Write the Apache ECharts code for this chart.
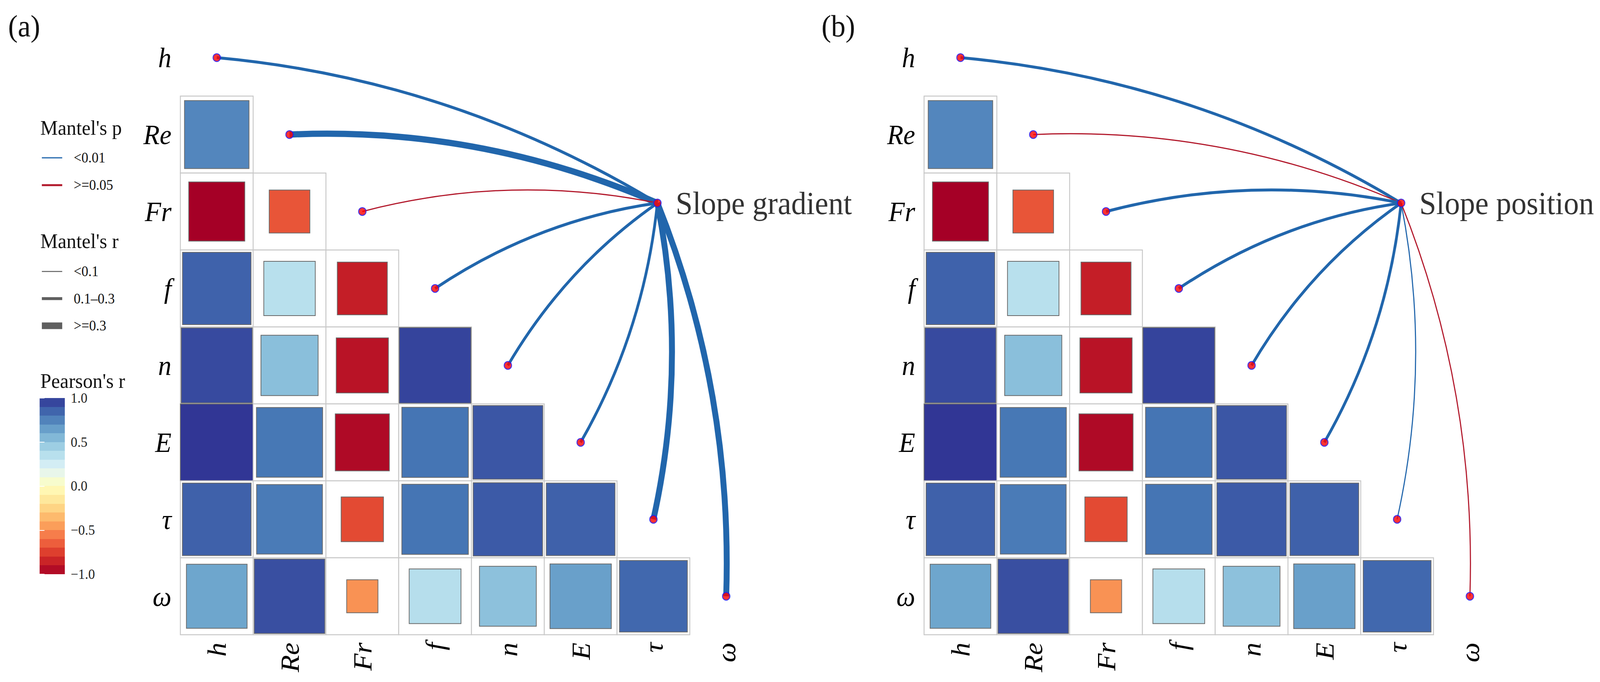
<!DOCTYPE html>
<html>
<head>
<meta charset="utf-8">
<script src="https://cdn.jsdelivr.net/npm/echarts@6/dist/echarts.min.js"></script>
<style>
html,body{margin:0;padding:0;background:#fff;overflow:hidden;}
#chart{width:4320px;height:1746px;transform-origin:0 0;}
</style>
</head>
<body>
<div id="chart"></div>
<script>
// ---------------- DATA ----------------
const variables = ['h', 'Re', 'Fr', 'f', 'n', 'E', 'τ', 'ω'];

// Pearson's r, lower triangle (row variable vs. preceding column variables)
const pearsonH     = [];
const pearsonRe    = [0.74];
const pearsonFr    = [-1.0, -0.68];
const pearsonF     = [0.86, 0.35, -0.875];
const pearsonN     = [0.935, 0.52, -0.92, 0.955];
const pearsonE     = [1.0, 0.79, -0.96, 0.80, 0.90];
const pearsonTau   = [0.865, 0.78, -0.715, 0.80, 0.885, 0.865];
const pearsonOmega = [0.625, 0.92, -0.485, 0.36, 0.51, 0.645, 0.84];

const envNames = ['Slope gradient', 'Slope position'];

// Mantel test results per variable (h ... ω)
const mantelRGradient = [0.22, 0.42, 0.05, 0.19, 0.21, 0.16, 0.36, 0.39];
const mantelPGradient = [0.001, 0.001, 0.31, 0.001, 0.001, 0.001, 0.001, 0.001];
const mantelRPosition = [0.20, 0.06, 0.18, 0.17, 0.19, 0.15, 0.07, 0.05];
const mantelPPosition = [0.001, 0.27, 0.001, 0.001, 0.001, 0.001, 0.002, 0.18];

const legendPLabels = ['<0.01', '>=0.05'];
const legendPValues = [0.001, 0.2];
const legendRLabels = ['<0.1', '0.1–0.3', '>=0.3'];
const legendRValues = [0.05, 0.2, 0.4];

// ---------------- STYLE / LAYOUT ----------------
const W = 4320, H = 1746;
const FONT = 'Liberation Serif';
const BLUE = '#2166ac';
const RED = '#b2182b';
const GRID_TOP = 49, GRID_W = 1572, GRID_H = 1576;
const PANEL_LEFT = [487, 2495];
const NODE = [6.055, 1.89];      // env node location in cell units
const CURV = 0.055;              // arc bulge relative to chord length

// fit the 4320x1746 design into the actual viewport
const chartDiv = document.getElementById('chart');
const sx = (window.innerWidth || W) / W, sy = (window.innerHeight || H) / H;
if (Math.abs(sx - 1) > 0.001 || Math.abs(sy - 1) > 0.001) {
  chartDiv.style.transform = 'scale(' + sx + ',' + sy + ')';
}

const RDYLBU = ['#a50026','#d73027','#f46d43','#fdae61','#fee090','#ffffbf','#e0f3f8','#abd9e9','#74add1','#4575b4','#313695'];
function hex2rgb(h){ return [parseInt(h.substr(1,2),16), parseInt(h.substr(3,2),16), parseInt(h.substr(5,2),16)]; }
function pal(r){
  const t = (Math.max(-1, Math.min(1, r)) + 1) / 2 * 10;
  const i = Math.min(9, Math.floor(t)); const f = t - i;
  const a = hex2rgb(RDYLBU[i]), b = hex2rgb(RDYLBU[i+1]);
  const c = a.map((v, k) => Math.round(v + (b[k] - v) * f));
  return 'rgb(' + c.join(',') + ')';
}
function sideRatio(r){ return r >= 0 ? Math.min(1, 0.547 + 0.459 * r) : Math.min(1, 0.11 + 0.66 * (-r)); }
function lineW(mr){ return mr < 0.1 ? 3 : (mr < 0.3 ? 7.5 : 16); }
function lineC(mp){ return mp < 0.01 ? BLUE : (mp >= 0.05 ? RED : '#999999'); }

// build tables
const pearsonRows = [pearsonH, pearsonRe, pearsonFr, pearsonF, pearsonN, pearsonE, pearsonTau, pearsonOmega];
const cells = [];
pearsonRows.forEach((row, i) => row.forEach((r, j) => cells.push([j, i, r])));
const diagPoints = variables.map((v, i) => [i, i]);
const linkData = [
  variables.map((v, i) => [i, mantelRGradient[i], mantelPGradient[i]]),
  variables.map((v, i) => [i, mantelRPosition[i], mantelPPosition[i]])
];

// ---------------- CHART ----------------
const chart = echarts.init(chartDiv, null, {renderer: 'svg', width: W, height: H});

const grids = PANEL_LEFT.map(l => ({left: l, top: GRID_TOP, width: GRID_W, height: GRID_H, outerBoundsMode: 'none', containLabel: false}));
grids.push({left: 107, top: 1019, width: 68, height: 451, outerBoundsMode: 'none', containLabel: false});

const xAxes = [], yAxes = [];
[0, 1].forEach(p => {
  xAxes.push({
    type: 'category', gridIndex: p, data: variables, position: 'bottom',
    axisLine: {show: false}, axisTick: {show: false}, splitLine: {show: false},
    axisLabel: {interval: 0, rotate: 90, margin: 20, fontSize: 72, fontStyle: 'italic', fontFamily: FONT, color: '#000'}
  });
  yAxes.push({
    type: 'category', gridIndex: p, data: variables, inverse: true,
    axisLine: {show: false}, axisTick: {show: false}, splitLine: {show: false},
    axisLabel: {interval: 0, margin: 24, fontSize: 72, fontStyle: 'italic', fontFamily: FONT, color: '#000'}
  });
});
[0, 1].forEach(p => {
  xAxes.push({type: 'value', gridIndex: p, min: -0.5, max: 7.5, show: false});
  yAxes.push({type: 'value', gridIndex: p, min: -0.5, max: 7.5, inverse: true, show: false});
});
// colorbar axes
xAxes.push({type: 'value', gridIndex: 2, min: 0, max: 1, show: false});
yAxes.push({
  type: 'value', gridIndex: 2, min: -1, max: 1, interval: 0.5, position: 'right', z: 10,
  axisLine: {show: false}, splitLine: {show: false},
  axisTick: {show: true, inside: true, length: 13, lineStyle: {color: '#ffffff', width: 2}},
  axisLabel: {margin: 16, fontSize: 36, fontFamily: FONT, color: '#222',
    formatter: v => (v < 0 ? '−' : '') + Math.abs(v).toFixed(1)}
});
yAxes.push({
  type: 'value', gridIndex: 2, min: -1, max: 1, interval: 0.5, position: 'left', z: 10,
  axisLine: {show: false}, splitLine: {show: false}, axisLabel: {show: false},
  axisTick: {show: true, inside: true, length: 13, lineStyle: {color: '#ffffff', width: 2}}
});

const series = [];
[0, 1].forEach(p => {
  const xi = 2 + p, yi = 2 + p;
  series.push({
    type: 'custom', xAxisIndex: xi, yAxisIndex: yi, silent: true, z: 1,
    data: cells,
    renderItem: (params, api) => {
      const c = api.coord([api.value(0), api.value(1)]);
      const s = api.size([1, 1]);
      const r = api.value(2);
      const side = sideRatio(r) * Math.min(s[0], s[1]);
      return {type: 'group', children: [
        {type: 'rect', shape: {x: c[0] - s[0] / 2, y: c[1] - s[1] / 2, width: s[0], height: s[1]},
          style: {fill: '#ffffff', stroke: '#c8c8c8', lineWidth: 2.5}},
        {type: 'rect', shape: {x: c[0] - side / 2, y: c[1] - side / 2, width: side, height: side},
          style: {fill: pal(r), stroke: '#6a6a6a', lineWidth: 2}}
      ]};
    }
  });
  series.push({
    type: 'custom', xAxisIndex: xi, yAxisIndex: yi, silent: true, z: 3,
    data: linkData[p],
    renderItem: (params, api) => {
      const i = api.value(0), mr = api.value(1), mp = api.value(2);
      const a = api.coord(NODE), b = api.coord([i, i]);
      const dx = b[0] - a[0], dy = b[1] - a[1], L = Math.hypot(dx, dy);
      const ux = dx / L, uy = dy / L;
      const ang = Math.atan2(Math.abs(dy), Math.abs(dx)) * 180 / Math.PI;
      const sgn = (dy > 0 && ang > 60) ? -1 : 1;
      const off = 2 * CURV * L;
      const cx = (a[0] + b[0]) / 2 + sgn * (-uy) * off;
      const cy = (a[1] + b[1]) / 2 + sgn * (ux) * off;
      return {type: 'bezierCurve',
        shape: {x1: a[0], y1: a[1], x2: b[0], y2: b[1], cpx1: cx, cpy1: cy},
        style: {fill: 'none', stroke: lineC(mp), lineWidth: lineW(mr), lineCap: 'butt'}};
    }
  });
  series.push({
    type: 'scatter', xAxisIndex: xi, yAxisIndex: yi, silent: true, z: 5,
    data: diagPoints, symbol: 'circle', symbolSize: 20,
    itemStyle: {color: '#ff0000', borderColor: '#1a1aff', borderWidth: 2.5}
  });
  series.push({
    type: 'scatter', xAxisIndex: xi, yAxisIndex: yi, silent: true, z: 6,
    data: [NODE], symbol: 'circle', symbolSize: 20,
    itemStyle: {color: '#ff0000', borderColor: '#1a1aff', borderWidth: 2.5},
    label: {show: true, position: 'right', distance: 38, formatter: envNames[p],
      fontSize: 82, fontFamily: FONT, color: '#000'}
  });
});
// colorbar
const cbStops = [];
for (let b = 0; b < 20; b++) {
  const col = pal(1 - (b + 0.5) / 10);
  cbStops.push({offset: b / 20, color: col}, {offset: (b + 1) / 20, color: col});
}
series.push({
  type: 'custom', xAxisIndex: 4, yAxisIndex: 4, silent: true, z: 1,
  data: [[0, 0]],
  renderItem: (params, api) => {
    const p1 = api.coord([0, 1]), p2 = api.coord([1, -1]);
    return {type: 'rect', shape: {x: p1[0], y: p1[1], width: p2[0] - p1[0], height: p2[1] - p1[1]},
      style: {fill: new echarts.graphic.LinearGradient(0, 0, 0, 1, cbStops)}};
  }
});

// legend graphics
const graphic = [];
function gText(txt, x, y, size){
  graphic.push({type: 'text', x: x, y: y, silent: true,
    style: {text: txt, fontSize: size, fontFamily: FONT, fill: '#111', verticalAlign: 'middle', align: 'left'}});
}
gText('(a)', 22, 66, 78);
gText('(b)', 2218, 66, 78);
gText("Mantel's p", 109, 327, 53);
legendPLabels.forEach((t, k) => {
  const y = 404 + k * 70;
  graphic.push({type: 'line', silent: true, shape: {x1: 113, y1: y, x2: 168, y2: y},
    style: {stroke: lineC(legendPValues[k]), lineWidth: k === 0 ? 3 : 5}});
  gText(t, 199, y, 37);
});
gText("Mantel's r", 109, 617, 53);
legendRLabels.forEach((t, k) => {
  const y = 695 + k * 69.5;
  graphic.push({type: 'line', silent: true, shape: {x1: 113, y1: y, x2: 168, y2: y},
    style: {stroke: '#5f5f5f', lineWidth: lineW(legendRValues[k]) + (k === 2 ? 1 : 0) - (k === 0 ? 0.5 : 0)}});
  gText(t, 199, y, 37);
});
gText("Pearson's r", 109, 975, 53);

chart.setOption({
  animation: false,
  backgroundColor: '#ffffff',
  grid: grids,
  xAxis: xAxes,
  yAxis: yAxes,
  series: series,
  graphic: graphic
});
</script>
</body>
</html>
